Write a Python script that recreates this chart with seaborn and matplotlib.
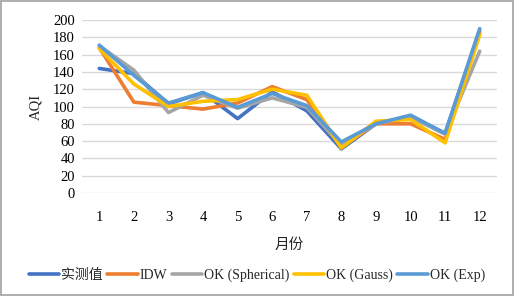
import numpy as np
import matplotlib
matplotlib.use("Agg")
import matplotlib.pyplot as plt
import seaborn as sns
import pandas as pd

months = list(range(1, 13))
series_names = ['实测值', 'IDW', 'OK (Spherical)', 'OK (Gauss)', 'OK (Exp)']
measured = [144, 138, 103, 116, 86, 117, 95, 51, 80, 88, 69, 188]
idw = [168, 105, 101, 97, 104, 123, 108, 53, 80, 80, 62, 185]
ok_spherical = [170, 142, 93, 113, 98, 110, 99, 55, 80, 88, 68, 164]
ok_gauss = [167, 126, 100, 106, 108, 120, 113, 52, 83, 85, 58, 183]
ok_exp = [171, 136, 104, 116, 99, 115, 101, 59, 80, 90, 69, 190]
colors = ['#4472C4', '#ED7D31', '#A5A5A5', '#FFC000', '#5B9BD5']

sns.set_style('white')
plt.rcParams['font.family'] = ['Liberation Serif', 'Noto Sans CJK SC']

df = pd.DataFrame({
    'month': months * 5,
    'AQI': measured + idw + ok_spherical + ok_gauss + ok_exp,
    'series': sum([[n] * 12 for n in series_names], []),
})

fig = plt.figure(figsize=(5.14, 2.96), dpi=100)
ax = fig.add_axes([82 / 514, 1 - 193 / 296, 415 / 514, 173 / 296])
sns.lineplot(data=df, x='month', y='AQI', hue='series', hue_order=series_names,
             palette=colors, linewidth=2.6, ax=ax, legend=True)

ax.set_xlim(0.5, 12.5)
ax.set_ylim(0, 200)
ax.set_yticks(np.arange(0, 201, 20))
ax.set_xticks(months)
ax.yaxis.grid(True, color='#D9D9D9', linewidth=1)
ax.set_axisbelow(True)
for s in ax.spines.values():
    s.set_visible(False)
ax.tick_params(axis='both', length=0, labelsize=10.5, colors='black')
ax.tick_params(axis='x', pad=13)
ax.tick_params(axis='y', pad=5)
ax.set_xlabel('月份', fontsize=10.5, labelpad=10)
ax.set_ylabel('AQI', fontsize=10.5, labelpad=8)

handles, labels = ax.get_legend_handles_labels()
ax.get_legend().remove()
fig.legend(handles, labels, loc='center', bbox_to_anchor=(0.5, 1 - 275 / 296), ncol=5,
           frameon=False, fontsize=10, handlelength=2.2, handletextpad=0.15,
           columnspacing=0.3)

fig.patches.append(plt.Rectangle((0.002, 0.003), 0.996, 0.994, transform=fig.transFigure,
                                 fill=False, edgecolor='#A0A0A0', linewidth=1.2))
fig.savefig('out.png', dpi=100)
